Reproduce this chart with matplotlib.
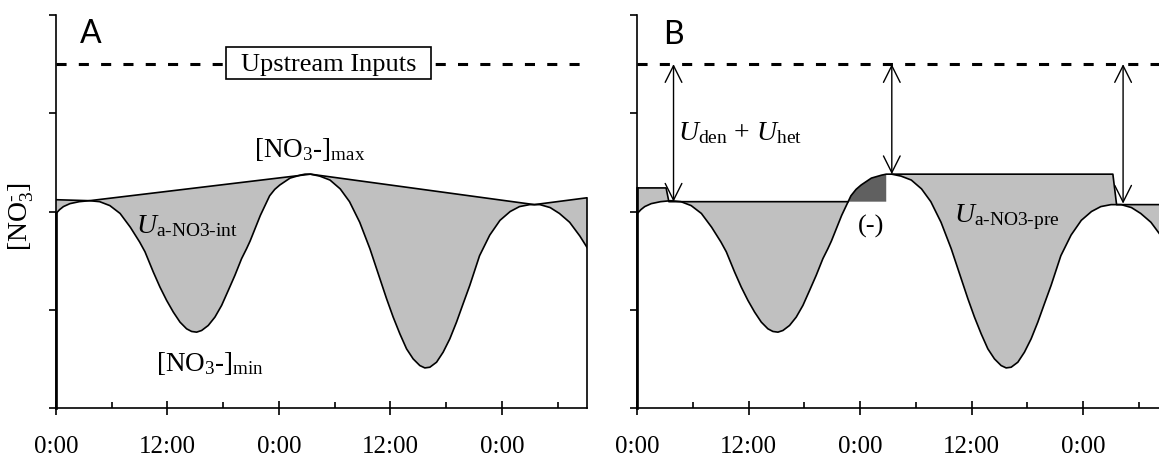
import numpy as np
import matplotlib
matplotlib.use("Agg")
import matplotlib.pyplot as plt
from matplotlib.patches import Rectangle

plt.rcParams['font.family'] = ['Liberation Serif', 'DejaVu Serif']
plt.rcParams['mathtext.fontset'] = 'custom'
plt.rcParams['mathtext.rm'] = 'Liberation Serif'
plt.rcParams['mathtext.it'] = 'Liberation Serif:italic'
plt.rcParams['mathtext.bf'] = 'Liberation Serif:bold'

# ---------------- data (hours since start, relative [NO3-]) ----------------
curve_t = [0.0, 0.4, 0.8, 1.5, 2.5, 3.6, 4.7, 5.8, 6.9, 8.0, 9.0, 9.58, 10.47,
           11.19, 11.91, 12.63, 13.35, 14.06, 14.6, 15.14, 15.68, 16.39, 17.11,
           17.83, 18.55, 19.26, 19.98, 20.52, 20.9, 22.0, 22.7, 23.0, 23.55,
           24.1, 25.2, 26.3, 26.8, 27.4, 28.4, 29.5, 30.6, 31.6, 32.7, 33.8,
           34.87, 35.59, 36.3, 37.02, 37.74, 38.45, 39.17, 39.71, 40.25, 40.97,
           41.68, 42.4, 43.12, 43.83, 44.55, 45.6, 46.7, 47.8, 48.9, 49.9,
           51.0, 52.1, 53.2, 54.2, 55.3, 56.4, 57.2]
curve_y = [1.98, 2.02, 2.05, 2.08, 2.10, 2.11, 2.10, 2.06, 1.98, 1.84, 1.69, 1.59, 1.385,
           1.231, 1.095, 0.976, 0.874, 0.806, 0.779, 0.772, 0.789, 0.840, 0.925,
           1.044, 1.197, 1.350, 1.520, 1.622, 1.70, 1.96, 2.10, 2.16, 2.225,
           2.27, 2.34, 2.37, 2.38, 2.38, 2.36, 2.32, 2.23, 2.10, 1.89, 1.62,
           1.316, 1.112, 0.925, 0.755, 0.602, 0.50, 0.432, 0.408, 0.415, 0.466,
           0.568, 0.704, 0.874, 1.061, 1.248, 1.55, 1.76, 1.91, 2.00, 2.05,
           2.07, 2.07, 2.04, 1.98, 1.89, 1.75, 1.63]

# Panel A: interpolated envelope through maxima
env_t = [0.0, 3.6, 27.4, 51.5, 57.2]
env_y = [2.12, 2.11, 2.38, 2.07, 2.14]

# Panel B: preceding-maximum step lines
pre1_t = [0.0, 3.1, 3.4, 22.7]
pre1_y = [2.24, 2.24, 2.10, 2.10]
pre2_t = [27.4, 51.2, 51.6, 57.2]
pre2_y = [2.38, 2.38, 2.07, 2.07]
neg_t = [22.7, 26.8]          # negative-uptake window (dark)
neg_base = 2.10

arrow_t = [3.9, 27.4, 52.3]
arrow_y = [2.10, 2.38, 2.08]
upstream = 3.5

xticks = [0, 12, 24, 36, 48]
xlabels = ['0:00', '12:00', '0:00', '12:00', '0:00']
xminor = [6, 18, 30, 42, 54]
yticks = [0, 1, 2, 3, 4]
t_end = 57.2

GREY = '#C0C0C0'
DARK = '#606060'
LW = 1.2

ct = np.array(curve_t)
cy = np.array(curve_y)

W, H = 1159, 460
fig = plt.figure(figsize=(W / 100, H / 100), dpi=100)
axA = fig.add_axes([56 / W, 51 / H, 531.3 / W, 393 / H])
axB = fig.add_axes([637.3 / W, 51 / H, 531.3 / W, 393 / H])


def style(ax):
    ax.set_xlim(0, t_end)
    ax.set_ylim(0, 4)
    for s in ['top', 'right']:
        ax.spines[s].set_visible(False)
    ax.spines['left'].set_linewidth(LW)
    ax.spines['bottom'].set_linewidth(LW)
    ax.set_xticks(xticks)
    ax.set_xticklabels(xlabels, fontsize=18)
    ax.set_xticks(xminor, minor=True)
    ax.set_yticks(yticks)
    ax.set_yticklabels([])
    ax.tick_params(axis='x', which='major', direction='inout', length=10.5,
                   width=LW, pad=14.5)
    ax.tick_params(axis='x', which='minor', direction='in', length=4.3, width=LW)
    ax.tick_params(axis='y', which='major', direction='out', length=4.7, width=LW)
    ax.axhline(upstream, xmin=0, xmax=1, color='black', lw=2.2,
               ls=(0, (3.3, 4.0)), zorder=1)


style(axA)
style(axB)

# ---------------- Panel A ----------------
polyA_t = np.concatenate([env_t, ct[::-1]])
polyA_y = np.concatenate([env_y, cy[::-1]])
axA.fill(polyA_t, polyA_y, color=GREY, lw=0, zorder=2)
axA.plot(env_t, env_y, color='black', lw=LW, zorder=3)
axA.plot(ct, cy, color='black', lw=LW, zorder=3, solid_joinstyle='round')
axA.plot([t_end, t_end], [0, env_y[-1]], color='black', lw=LW, zorder=3, clip_on=False)
axA.plot([0, 0], [0, cy[0]], color='black', lw=LW * 1.6, zorder=3, clip_on=False)

axA.add_patch(Rectangle((18.3, 3.347), 22.06, 0.326, facecolor='white',
                        edgecolor='black', lw=LW, zorder=4))
axA.text(29.35, 3.505, 'Upstream Inputs', fontsize=19, ha='center', va='center', zorder=5)
axA.text(3.72, 3.82, 'A', family='Lato', fontsize=23, ha='center', va='center')
axA.text(27.3, 2.64, '[NO$_3$-]$_{\\rm max}$', fontsize=19.5, ha='center', va='center')
axA.text(16.6, 0.46, '[NO$_3$-]$_{\\rm min}$', fontsize=19.5, ha='center', va='center')
axA.text(8.6, 1.86, '$U_{\\text{a-NO3-int}}$', fontsize=20, ha='left', va='center', zorder=5)

# ---------------- Panel B ----------------
m1 = ct < pre1_t[-1]
poly1_t = np.concatenate([pre1_t, ct[m1][::-1]])
poly1_y = np.concatenate([pre1_y, cy[m1][::-1]])
axB.fill(poly1_t, poly1_y, color=GREY, lw=0, zorder=2)

md = (ct > neg_t[0]) & (ct <= neg_t[1])
polyd_t = np.concatenate([[neg_t[0]], ct[md], [neg_t[1]]])
polyd_y = np.concatenate([[neg_base], cy[md], [neg_base]])
axB.fill(polyd_t, polyd_y, color=DARK, lw=0, zorder=2)

m2 = ct >= pre2_t[0]
poly2_t = np.concatenate([pre2_t, ct[m2][::-1]])
poly2_y = np.concatenate([pre2_y, cy[m2][::-1]])
axB.fill(poly2_t, poly2_y, color=GREY, lw=0, zorder=2)

axB.plot(pre1_t, pre1_y, color='black', lw=LW, zorder=3)
axB.plot(pre2_t, pre2_y, color='black', lw=LW, zorder=3)
axB.plot(ct, cy, color='black', lw=LW, zorder=3, solid_joinstyle='round')
axB.plot([0, 0], [0, pre1_y[0]], color='black', lw=LW * 1.6, zorder=3, clip_on=False)

for at, ay in zip(arrow_t, arrow_y):
    axB.annotate('', xy=(at, ay), xytext=(at, upstream),
                 arrowprops=dict(arrowstyle='<->,head_length=0.6,head_width=0.3',
                                 lw=1.0, color='black', shrinkA=0, shrinkB=0,
                                 mutation_scale=20), zorder=4)

axB.text(3.84, 3.81, 'B', family='Lato', fontsize=23, ha='center', va='center')
axB.text(4.35, 2.81, '$U_{\\rm den}$ + $U_{\\rm het}$', fontsize=20, ha='left', va='center')
axB.text(25.2, 1.86, '(-)', fontsize=19, ha='center', va='center')
axB.text(34.05, 1.95, '$U_{\\text{a-NO3-pre}}$', fontsize=20, ha='left', va='center', zorder=5)

fig.text(21 / W, 1 - 216 / H, '[NO$_3^{\\text{-}}$]', fontsize=20, rotation=90,
         ha='center', va='center')

fig.savefig('out.png', dpi=100)
